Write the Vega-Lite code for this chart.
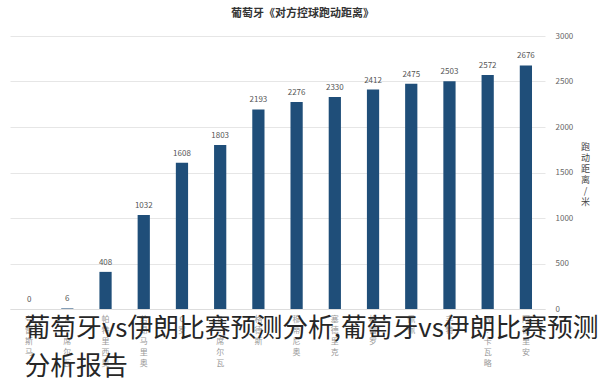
{
  "$schema": "https://vega.github.io/schema/vega-lite/v6.json",
  "autosize": {"type": "none"},
  "width": 535,
  "height": 273,
  "padding": {"left": 10, "top": 36, "right": 55, "bottom": 82},
  "background": "white",
  "title": {
    "text": "葡萄牙《对方控球跑动距离》",
    "fontSize": 11,
    "fontWeight": "bold",
    "color": "#333",
    "font": "Noto Sans CJK SC",
    "anchor": "middle",
    "dx": 25,
    "offset": 13
  },
  "data": {
    "values": [
      {"player": "夸雷斯马", "distance": 0},
      {"player": "A.席尔瓦", "distance": 6},
      {"player": "帕特里西奥", "distance": 408},
      {"player": "若昂马里奥", "distance": 1032},
      {"player": "C罗", "distance": 1608},
      {"player": "B.席尔瓦", "distance": 1803},
      {"player": "格德斯", "distance": 2193},
      {"player": "穆蒂尼奥", "distance": 2276},
      {"player": "塞德里克", "distance": 2330},
      {"player": "格雷罗", "distance": 2412},
      {"player": "佩佩", "distance": 2475},
      {"player": "丰特", "distance": 2503},
      {"player": "W.卡瓦略", "distance": 2572},
      {"player": "阿德里安", "distance": 2676}
    ]
  },
  "encoding": {
    "x": {
      "field": "player",
      "type": "nominal",
      "sort": null,
      "scale": {"paddingInner": 0.68, "paddingOuter": 0.34},
      "axis": {
        "labelAngle": 0,
        "labelExpr": "split(datum.label, '')",
        "labelLineHeight": 11,
        "labelFontSize": 8,
        "labelColor": "#9a9a9a",
        "labelFont": "Noto Sans CJK SC",
        "labelPadding": 6,
        "labelBaseline": "top",
        "labelOverlap": false,
        "ticks": false,
        "domainColor": "#dddddd",
        "title": ["葡萄牙vs伊朗比赛预测分析,葡萄牙vs伊朗比赛预测", "分析报告"],
        "titleFont": "Noto Sans CJK SC",
        "titleFontSize": 25.8,
        "titleFontWeight": "normal",
        "titleColor": "#262626",
        "titleLineHeight": 38,
        "titleAnchor": "start",
        "titleAlign": "left",
        "titleBaseline": "top",
        "titleX": 14,
        "titleY": 7
      }
    },
    "y": {
      "field": "distance",
      "type": "quantitative",
      "scale": {"domain": [0, 3000]},
      "axis": {
        "orient": "right",
        "values": [0, 500, 1000, 1500, 2000, 2500, 3000],
        "format": "d",
        "domain": false,
        "ticks": false,
        "gridColor": "#e6e6e6",
        "labelFontSize": 8,
        "labelColor": "#666",
        "labelPadding": 10,
        "title": ["跑", "动", "距", "离", "/", "米"],
        "titleAngle": 0,
        "titleFont": "Noto Sans CJK SC",
        "titleFontSize": 9,
        "titleFontWeight": "normal",
        "titleColor": "#444",
        "titleLineHeight": 11,
        "titleBaseline": "top",
        "titleAlign": "center",
        "titleX": 40,
        "titleY": 106
      }
    }
  },
  "layer": [
    {"mark": {"type": "bar", "color": "#1f4e79"}},
    {
      "mark": {"type": "text", "dy": -9, "fontSize": 8, "color": "#555"},
      "encoding": {"text": {"field": "distance", "type": "quantitative"}}
    }
  ],
  "config": {"view": {"stroke": null}, "font": "Noto Sans CJK SC"}
}
